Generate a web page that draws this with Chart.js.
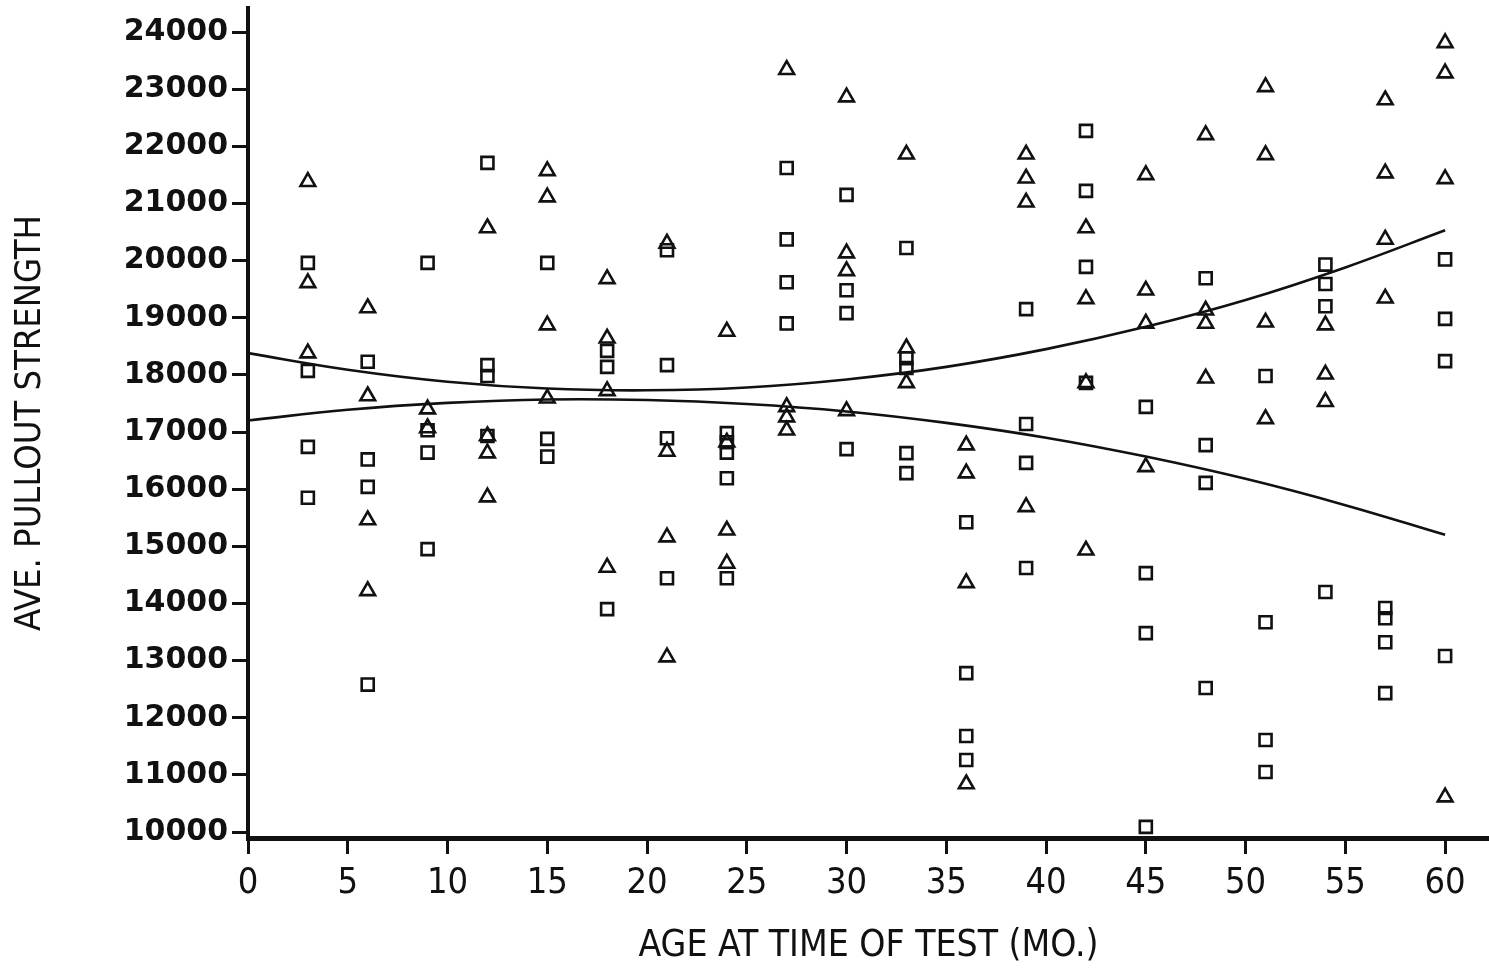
<!DOCTYPE html>
<html>
<head>
<meta charset="utf-8">
<title>Ave. pullout strength vs age</title>
<script src="https://cdn.jsdelivr.net/npm/chart.js@4.4.0/dist/chart.umd.min.js"></script>
<style>
    html, body { margin: 0; padding: 0; background: #fff; }
    #wrap { width: 1489px; height: 971px; }
</style>
</head>
<body>
<div id="wrap"><canvas id="pulloutChart" width="1489" height="971"></canvas></div>
<script>
// ==================== DATA ====================

// triangles
let triX = [3, 3, 3,
    6, 6, 6, 6,
    9, 9,
    12, 12, 12, 12,
    15, 15, 15, 15,
    18, 18, 18, 18,
    21, 21, 21, 21,
    24, 24, 24, 24,
    27, 27, 27, 27,
    30, 30, 30, 30,
    33, 33, 33,
    36, 36, 36, 36,
    39, 39, 39, 39,
    42, 42, 42, 42,
    45, 45, 45, 45,
    48, 48, 48, 48,
    51, 51, 51, 51,
    54, 54, 54,
    57, 57, 57, 57,
    60, 60, 60, 60];
let triY = [21380, 19610, 18380,
    19170, 17630, 15460, 14220,
    17400, 17070,
    20570, 16930, 16630, 15860,
    21570, 21110, 18870, 17590,
    19680, 18640, 17720, 14630,
    20300, 16660, 15160, 13060,
    18760, 16820, 15280, 14700,
    23340, 17440, 17260, 17030,
    22860, 20130, 19820, 17370,
    21860, 18470, 17860,
    16770, 16280, 14360, 10840,
    21860, 21440, 21020, 15690,
    20570, 19330, 17860, 14930,
    21500, 19480, 18900, 16390,
    22200, 19130, 18900, 17940,
    23040, 21850, 18920, 17230,
    18870, 18010, 17530,
    22810, 21530, 20370, 19340,
    23810, 23280, 21430, 10610];

// squares
let sqX = [3, 3, 3, 3,
    6, 6, 6, 6,
    9, 9, 9, 9,
    12, 12, 12, 12,
    15, 15, 15,
    18, 18, 18,
    21, 21, 21, 21,
    24, 24, 24, 24, 24,
    27, 27, 27, 27,
    30, 30, 30, 30,
    33, 33, 33, 33, 33,
    36, 36, 36, 36,
    39, 39, 39, 39,
    42, 42, 42, 42,
    45, 45, 45, 45,
    48, 48, 48, 48,
    51, 51, 51, 51,
    54, 54, 54, 54,
    57, 57, 57, 57,
    60, 60, 60, 60];
let sqY = [19960, 18070, 16740, 15850,
    18230, 16520, 16040, 12580,
    19960, 17030, 16640, 14950,
    21710, 18170, 17980, 16930,
    19960, 16880, 16570,
    18420, 18140, 13900,
    20180, 18170, 16890, 14440,
    16980, 16820, 16640, 16190, 14440,
    21620, 20370, 19620, 18900,
    21150, 19480, 19080, 16700,
    20220, 18290, 18120, 16630, 16280,
    15420, 12780, 11680, 11260,
    19150, 17140, 16460, 14620,
    22270, 21220, 19890, 17860,
    17440, 14530, 13480, 10090,
    19690, 16770, 16110, 12520,
    17980, 13670, 11610, 11050,
    19930, 19590, 19200, 14200,
    13920, 13740, 13320, 12430,
    20020, 18980, 18240, 13080];

// the two fitted curves, read every 5 months
let curveX = [0, 5, 10, 15, 20, 25, 30, 35, 40, 45, 50, 55, 60];
let upperCurve = [18380, 18090, 17880, 17760, 17730, 17780, 17920, 18140, 18450, 18840, 19310, 19880, 20530];
let lowerCurve = [17200, 17390, 17510, 17570, 17560, 17490, 17360, 17160, 16900, 16570, 16180, 15720, 15200];

// tick labels
let xTicks = [0, 5, 10, 15, 20, 25, 30, 35, 40, 45, 50, 55, 60];
let yTicks = [10000, 11000, 12000, 13000, 14000, 15000, 16000, 17000, 18000, 19000, 20000, 21000, 22000, 23000, 24000];

// axis labels
let xTitle = "AGE AT TIME OF TEST (MO.)";
let yTitle = "AVE. PULLOUT STRENGTH";

// ==================== HELPERS ====================

function toPoints(xs, ys) {
    return xs.map((x, i) => ({ x: x, y: ys[i] }));
}

function markerSet(xs, ys, style) {
    return {
        type: 'scatter',
        data: toPoints(xs, ys),
        pointStyle: style,
        pointRadius: 8.5,
        pointHoverRadius: 8.5,
        pointBorderWidth: 2.6,
        pointBorderColor: '#111',
        pointBackgroundColor: 'rgba(0,0,0,0)',
        showLine: false
    };
}

function curveSet(ys) {
    return {
        type: 'line',
        data: toPoints(curveX, ys),
        borderColor: '#111',
        borderWidth: 2.6,
        pointRadius: 0,
        tension: 0.4,
        fill: false
    };
}

const narrowFont = "'Liberation Sans Narrow', 'DejaVu Sans Condensed', sans-serif";

const tickMarks = {
    drawOnChartArea: false,
    tickLength: 16,
    tickWidth: 3,
    tickColor: '#111'
};

// ==================== CHART ====================

document.addEventListener("DOMContentLoaded", function () {
    let ctx = document.getElementById('pulloutChart').getContext('2d');
    new Chart(ctx, {
        type: 'scatter',
        data: {
            datasets: [
                markerSet(triX, triY, 'triangle'),
                markerSet(sqX, sqY, 'rect'),
                curveSet(upperCurve),
                curveSet(lowerCurve)
            ]
        },
        options: {
            responsive: false,
            animation: false,
            events: [],
            layout: { autoPadding: false, padding: { top: 8, right: 0, bottom: 0, left: 0 } },
            plugins: {
                legend: { display: false },
                tooltip: { enabled: false }
            },
            scales: {
                x: {
                    type: 'linear',
                    min: 0,
                    max: 62.2,
                    afterBuildTicks: scale => {
                        scale.ticks = xTicks.map(v => ({ value: v }));
                    },
                    afterFit: scale => {
                        scale.height = 133;
                        scale.paddingLeft = 0;
                        scale.paddingRight = 0;
                    },
                    ticks: {
                        color: '#111',
                        padding: 8,
                        maxRotation: 0,
                        autoSkip: false,
                        callback: value => String(value),
                        font: { family: narrowFont, size: 36 }
                    },
                    grid: tickMarks,
                    border: { display: true, color: '#111', width: 5 },
                    title: {
                        display: true,
                        text: xTitle,
                        color: '#111',
                        font: { family: narrowFont, size: 37 },
                        padding: { top: 0, bottom: 2 }
                    }
                },
                y: {
                    type: 'linear',
                    min: 9895,
                    max: 24420,
                    afterBuildTicks: scale => {
                        scale.ticks = yTicks.map(v => ({ value: v }));
                    },
                    afterFit: scale => {
                        scale.width = 248;
                        scale.paddingTop = 0;
                        scale.paddingBottom = 0;
                    },
                    ticks: {
                        color: '#111',
                        padding: 4,
                        autoSkip: false,
                        callback: value => String(value),
                        font: { family: "'DejaVu Sans', sans-serif", size: 30, weight: 'bold' }
                    },
                    grid: tickMarks,
                    border: { display: true, color: '#111', width: 4 },
                    title: {
                        display: true,
                        text: yTitle,
                        color: '#111',
                        font: { family: narrowFont, size: 36 },
                        padding: { top: 9, bottom: 0 }
                    }
                }
            }
        }
    });
});
</script>
</body>
</html>
